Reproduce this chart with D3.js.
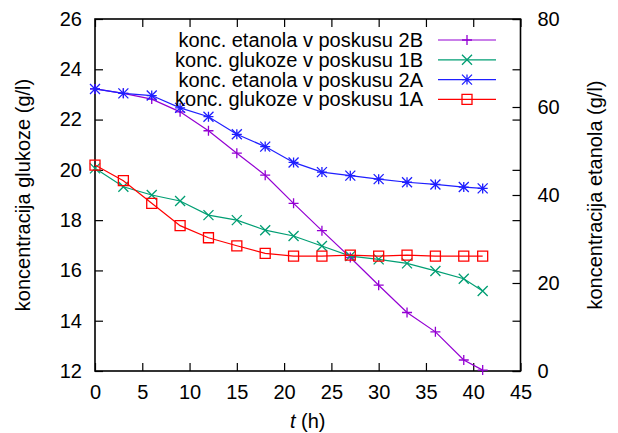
<!DOCTYPE html>
<html lang="sl">
<head>
<meta charset="UTF-8">
<title>Koncentracija glukoze in etanola</title>
<script src="https://cdn.jsdelivr.net/npm/d3@7"></script>
<style>
  * { margin: 0; padding: 0; }
  body { background: #fff; }
  svg { display: block; font-family: "Liberation Sans", Arial, sans-serif; }
  .axis text { font-size: 20px; fill: #000; }
  .axis line { stroke: #000; stroke-width: 1.2; }
  .axis path { display: none; }
</style>
</head>
<body>
<svg id="chart" width="618" height="433"></svg>
<script>
// time points (h)
var hours = [0, 3, 6, 9, 12, 15, 18, 21, 24, 27, 30, 33, 36, 39, 41];

// ethanol (right axis, g/l)
var etanol2B = [64.1, 63.1, 61.8, 58.9, 54.6, 49.5, 44.5, 38.1, 31.9, 25.8, 19.5, 13.3, 8.9, 2.5, 0.2];
var etanol2A = [64.1, 63.1, 62.6, 59.8, 57.8, 53.8, 51.0, 47.4, 45.2, 44.4, 43.6, 42.9, 42.4, 41.8, 41.5];
// glucose (left axis, g/l)
var glukoza1B = [20.06, 19.33, 19.0, 18.76, 18.2, 18.0, 17.6, 17.37, 16.97, 16.57, 16.44, 16.28, 15.98, 15.67, 15.18];
var glukoza1A = [20.19, 19.57, 18.67, 17.78, 17.3, 16.98, 16.68, 16.57, 16.57, 16.61, 16.57, 16.61, 16.57, 16.57, 16.57];

var xTicks = [0, 5, 10, 15, 20, 25, 30, 35, 40, 45];
var yTicks = [12, 14, 16, 18, 20, 22, 24, 26];
var y2Ticks = [0, 20, 40, 60, 80];

var series = [
  { name: 'konc. etanola v poskusu 2B', values: etanol2B, axis: 'y2', color: '#9400d3', marker: 'plus' },
  { name: 'konc. glukoze v poskusu 1B', values: glukoza1B, axis: 'y', color: '#009e73', marker: 'cross' },
  { name: 'konc. etanola v poskusu 2A', values: etanol2A, axis: 'y2', color: '#1f1fff', marker: 'star' },
  { name: 'konc. glukoze v poskusu 1A', values: glukoza1A, axis: 'y', color: '#ff0000', marker: 'square' }
];

var pLeft = 95, pRight = 520.5, pTop = 19, pBottom = 371;
var svg = d3.select('#chart');

var x = d3.scaleLinear().domain([0, 45]).range([pLeft, pRight]);
var y = d3.scaleLinear().domain([12, 26]).range([pBottom, pTop]);
var y2 = d3.scaleLinear().domain([0, 80]).range([pBottom, pTop]);

// axes, ticks pointing inwards (gnuplot style)
svg.append('g').attr('class', 'axis')
  .attr('transform', 'translate(0,' + pBottom + ')')
  .call(d3.axisBottom(x).tickValues(xTicks).tickSizeInner(-8).tickSizeOuter(0).tickPadding(14));
svg.append('g').attr('class', 'axis')
  .attr('transform', 'translate(0,' + pTop + ')')
  .call(d3.axisTop(x).tickValues(xTicks).tickSizeInner(-8).tickSizeOuter(0).tickFormat(''));
svg.append('g').attr('class', 'axis')
  .attr('transform', 'translate(' + pLeft + ',0)')
  .call(d3.axisLeft(y).tickValues(yTicks).tickSizeInner(-8).tickSizeOuter(0).tickPadding(13));
svg.append('g').attr('class', 'axis')
  .attr('transform', 'translate(' + pRight + ',0)')
  .call(d3.axisRight(y).tickValues(yTicks).tickSizeInner(-8).tickSizeOuter(0).tickFormat(''));
svg.append('g').attr('class', 'axis')
  .attr('transform', 'translate(' + pRight + ',0)')
  .call(d3.axisRight(y2).tickValues(y2Ticks).tickSizeInner(-8).tickSizeOuter(0).tickPadding(17));

// border
svg.append('rect')
  .attr('x', pLeft).attr('y', pTop)
  .attr('width', pRight - pLeft).attr('height', pBottom - pTop)
  .attr('fill', 'none').attr('stroke', '#000').attr('stroke-width', 1.6);

// axis titles
var xt = svg.append('text')
  .attr('x', (pLeft + pRight) / 2).attr('y', 428)
  .attr('text-anchor', 'middle').attr('font-size', 20);
xt.append('tspan').attr('font-style', 'italic').text('t');
xt.append('tspan').text(' (h)');

svg.append('text')
  .attr('transform', 'translate(30,' + ((pTop + pBottom) / 2) + ') rotate(-90)')
  .attr('text-anchor', 'middle').attr('font-size', 20)
  .text('koncentracija glukoze (g/l)');

svg.append('text')
  .attr('transform', 'translate(602,' + ((pTop + pBottom) / 2) + ') rotate(-90)')
  .attr('text-anchor', 'middle').attr('font-size', 20)
  .text('koncentracija etanola (g/l)');

function markerPath(type, s) {
  var p = d3.path();
  if (type === 'plus' || type === 'star') {
    p.moveTo(-s, 0); p.lineTo(s, 0);
    p.moveTo(0, -s); p.lineTo(0, s);
  }
  if (type === 'cross' || type === 'star') {
    p.moveTo(-s, -s); p.lineTo(s, s);
    p.moveTo(-s, s); p.lineTo(s, -s);
  }
  if (type === 'square') {
    p.rect(-s, -s, 2 * s, 2 * s);
  }
  return p.toString();
}

series.forEach(function(s) {
  var ys = s.axis === 'y2' ? y2 : y;
  var line = d3.line()
    .x(function(d, i) { return x(hours[i]); })
    .y(function(d) { return ys(d); });
  var g = svg.append('g');
  g.append('path')
    .datum(s.values)
    .attr('d', line)
    .attr('fill', 'none')
    .attr('stroke', s.color)
    .attr('stroke-width', 1.2);
  g.selectAll('path.pt')
    .data(s.values)
    .enter().append('path')
    .attr('class', 'pt')
    .attr('transform', function(d, i) { return 'translate(' + x(hours[i]) + ',' + ys(d) + ')'; })
    .attr('d', markerPath(s.marker, 5))
    .attr('fill', 'none')
    .attr('stroke', s.color)
    .attr('stroke-width', 1.3);
});

// legend
var legend = svg.append('g');
series.forEach(function(s, i) {
  var ly = 40 + i * 19.8;
  legend.append('text')
    .attr('x', 423).attr('y', ly).attr('dy', '0.35em')
    .attr('text-anchor', 'end').attr('font-size', 20)
    .text(s.name);
  legend.append('line')
    .attr('x1', 438).attr('x2', 496).attr('y1', ly).attr('y2', ly)
    .attr('stroke', s.color).attr('stroke-width', 1.2);
  legend.append('path')
    .attr('transform', 'translate(467,' + ly + ')')
    .attr('d', markerPath(s.marker, 5))
    .attr('fill', 'none').attr('stroke', s.color).attr('stroke-width', 1.3);
});
</script>
</body>
</html>
